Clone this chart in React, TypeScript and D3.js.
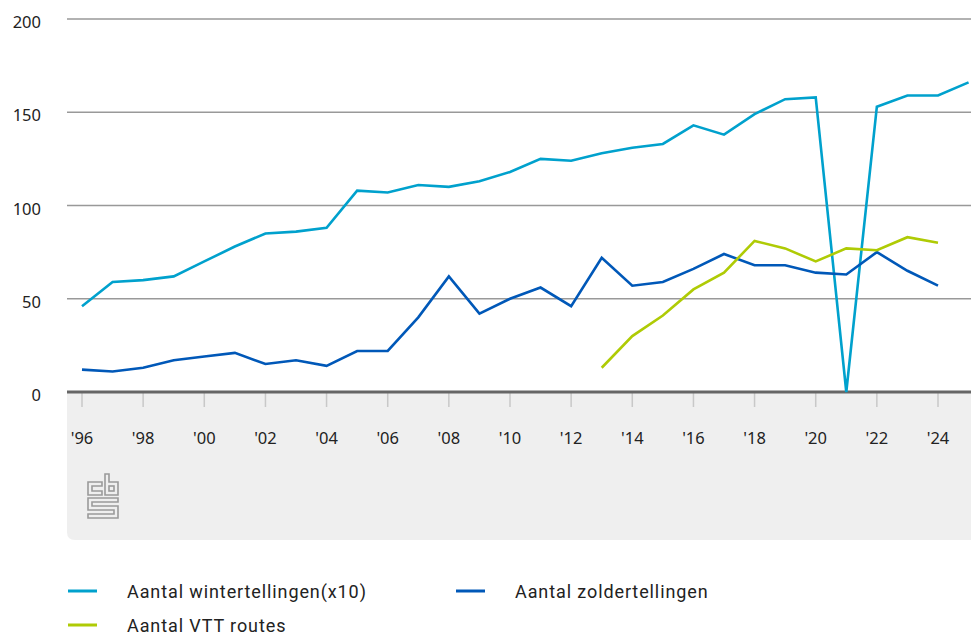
import React from "react";
import * as d3 from "d3";

const years = d3.range(1996, 2026);
const winter = [46, 59, 60, 62, 70, 78, 85, 86, 88, 108, 107, 111, 110, 113, 118, 125, 124, 128, 131, 133, 143, 138, 149, 157, 158, 0, 153, 159, 159, 166];
const zolderYears = d3.range(1996, 2025);
const zolder = [12, 11, 13, 17, 19, 21, 15, 17, 14, 22, 22, 40, 62, 42, 50, 56, 46, 72, 57, 59, 66, 74, 68, 68, 64, 63, 75, 65, 57];
const vttYears = d3.range(2013, 2025);
const vtt = [13, 30, 41, 55, 64, 81, 77, 70, 77, 76, 83, 80];
const yTicks = [0, 50, 100, 150, 200];
const xTickYears = d3.range(1996, 2025, 2);

const series = [
  { name: "Aantal wintertellingen(x10)", color: "#00a1cd", xs: years, ys: winter },
  { name: "Aantal zoldertellingen", color: "#0058b8", xs: zolderYears, ys: zolder },
  { name: "Aantal VTT routes", color: "#afcb05", xs: vttYears, ys: vtt },
];

export default function App() {
  const W = 971, H = 635;
  const x = d3.scaleLinear().domain([1996, 2024]).range([82, 938]);
  const y = d3.scaleLinear().domain([0, 200]).range([392, 19]);
  const left = 67;
  const bandBottom = 540;
  const font = "'Noto Sans', sans-serif";
  const lf = "Roboto, sans-serif";
  const r = 8;
  const bandPath = `M${left},392 H${W} V${bandBottom} H${left + r} Q${left},${bandBottom} ${left},${bandBottom - r} Z`;

  const legendPos = [
    { lx: 68, tx: 127, y: 591 },
    { lx: 456, tx: 515, y: 591 },
    { lx: 68, tx: 127, y: 625 },
  ];

  return (
    <svg width={W} height={H} style={{ position: "absolute", left: 0, top: 0 }}>
      <rect width={W} height={H} fill="#fff" />
      <path d={bandPath} fill="#efefef" />
      {yTicks.filter((t) => t > 0).map((t) => (
        <line key={t} x1={left} x2={W} y1={y(t)} y2={y(t)} stroke="#999" strokeWidth={1.3} />
      ))}
      {yTicks.map((t) => (
        <text key={t} x={41} y={y(t) + 9} textAnchor="end" fontFamily={font} fontSize={16.5} fill="#222">
          {t}
        </text>
      ))}
      {xTickYears.map((yr) => (
        <g key={yr}>
          <line x1={x(yr)} x2={x(yr)} y1={393} y2={407} stroke="#c8c8c8" strokeWidth={1.5} />
          <text x={x(yr)} y={444} textAnchor="middle" fontFamily={font} fontSize={16.5} fill="#222">
            {"'" + String(yr).slice(2)}
          </text>
        </g>
      ))}
      <line x1={left} x2={W} y1={392} y2={392} stroke="#666" strokeWidth={3} />
      {series.map((s) => {
        const line = d3.line<number>().x((_, i) => x(s.xs[i])).y((v) => y(v));
        return <path key={s.name} d={line(s.ys) || ""} fill="none" stroke={s.color} strokeWidth={2.6} strokeLinejoin="miter" />;
      })}
      {/* CBS logo */}
      <g fill="none" stroke="#9a9a9a" strokeWidth={1.6}>
        <path d="M88,482 H102 V486 H92 V491 H102 V495 H88 Z" />
        <path d="M105,474 H109 V482 H118 V495 H105 Z" />
        <rect x={109} y={486} width={5} height={5} />
        <path d="M88,498 H118 V502 H92 V506 H118 V518 H88 V514 H114 V510 H88 Z" />
      </g>
      {series.map((s, i) => (
        <g key={s.name}>
          <line x1={legendPos[i].lx} x2={legendPos[i].lx + 29} y1={legendPos[i].y} y2={legendPos[i].y} stroke={s.color} strokeWidth={3} />
          <text x={legendPos[i].tx} y={legendPos[i].y + 6.5} fontFamily={lf} fontSize={18} letterSpacing={0.9} fill="#222">
            {s.name}
          </text>
        </g>
      ))}
    </svg>
  );
}
